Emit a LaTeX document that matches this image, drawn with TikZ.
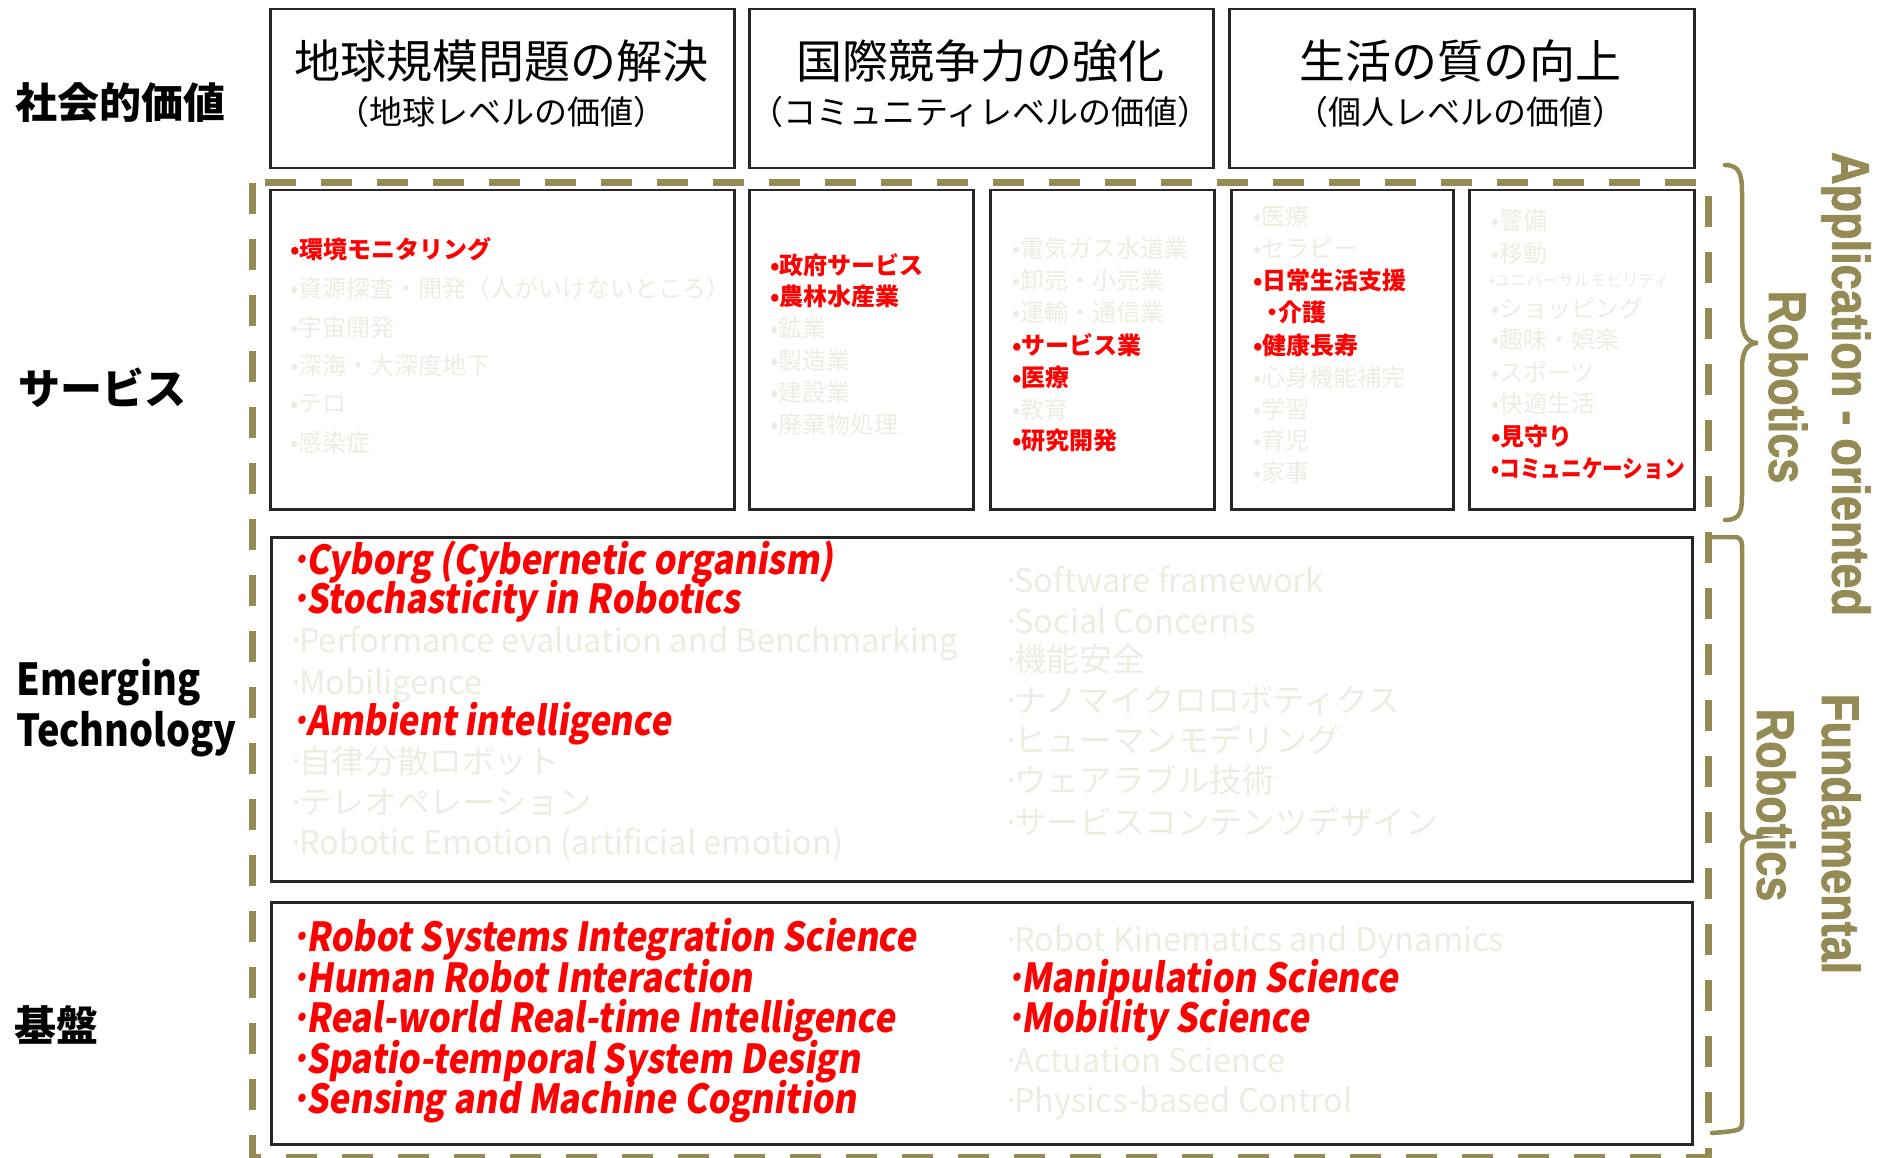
\documentclass[tikz,border=0pt]{standalone}
\usepackage{fontspec}
\setmainfont{Noto Sans CJK JP}
\newfontfamily\jpen{Noto Sans CJK JP}[FakeSlant=0.15,FakeStretch=0.87]
\newfontfamily\jpc{Noto Sans CJK JP}[FakeStretch=0.86]
\newfontfamily\rotf{Liberation Sans}[FakeStretch=0.85,FakeBold=1.5]
\definecolor{tanline}{HTML}{948A54}
\definecolor{faded}{HTML}{EEECE1}
\newcommand{\fs}[1]{\fontsize{#1pt}{#1pt}\selectfont}
\newcommand{\gd}{\makebox[6pt][c]{·}}
\newcommand{\rd}{\makebox[13pt][c]{･}}
\tikzset{
  box/.style={draw=black!85, line width=2.5pt, anchor=north west, inner sep=0pt},
  tx/.style={anchor=west, inner sep=0pt},
  lab/.style={tx, font=\bfseries\fs{42}, text height=35.7pt, text depth=5pt},
  ttl/.style={inner sep=0pt, font=\fs{46}},
  sub/.style={inner sep=0pt, font=\fs{33}},
  svr/.style={tx, text=red, font=\bfseries\fs{24}, text height=20.4pt, text depth=2.9pt},
  svg/.style={tx, text=faded, font=\fs{24}, text height=20.4pt, text depth=2.9pt},
  emr/.style={tx, text=red, font=\jpen\bfseries\fs{40}, text height=34pt, text depth=4.8pt},
  emg/.style={tx, text=faded, font=\fs{32.6}, text height=27.7pt, text depth=3.9pt},
  rot/.style={inner sep=0pt, rotate=-90, text=tanline, font=\rotf\bfseries\fs{53}},
  dashline/.style={draw=tanline, line width=7pt, dash pattern=on 31pt off 25pt},
  brace/.style={draw=tanline, line width=4.5pt, line cap=round}
}
\begin{document}
\begin{tikzpicture}[x=1pt,y=-1pt]
\useasboundingbox (0,0) rectangle (1892,1158);
% dashed frame
\draw[dashline] (252,183) rectangle (1708,1157);
% top boxes
\node[box, minimum width=464pt, minimum height=159pt] (b1) at (269,8) {};
\node[box, minimum width=464pt, minimum height=159pt] (b2) at (748,8) {};
\node[box, minimum width=465pt, minimum height=159pt] (b3) at (1228,8) {};
% service boxes
\node[box, minimum width=464pt, minimum height=319pt] (s1) at (269,189) {};
\node[box, minimum width=224pt, minimum height=319pt] (s2) at (748,189) {};
\node[box, minimum width=224pt, minimum height=319pt] (s3) at (989,189) {};
\node[box, minimum width=222pt, minimum height=319pt] (s4) at (1230,189) {};
\node[box, minimum width=225pt, minimum height=319pt] (s5) at (1468,189) {};
% emerging and base boxes
\node[box, minimum width=1421pt, minimum height=344pt] (em) at (270,536) {};
\node[box, minimum width=1421pt, minimum height=242pt] (kb) at (270,901) {};
% left labels
\node[lab] (lsoc) at (15,103) {社会的価値};
\node[lab] (lsvc) at (18,389) {サービス};
\node[lab, font=\jpc\bfseries\fs{44}, text height=37.4pt, text depth=5.3pt] (lemg) at (16,679) {Emerging};
\node[lab, font=\jpc\bfseries\fs{44}, text height=37.4pt, text depth=5.3pt] (ltec) at (16,730) {Technology};
\node[lab] (lkib) at (14,1026) {基盤};
% titles
\node[ttl] (h1) at (501,61) {地球規模問題の解決};
\node[sub] (u1) at (501,112) {（地球レベルの価値）};
\node[ttl] (h2) at (980,61) {国際競争力の強化};
\node[sub] (u2) at (980,112) {（コミュニティレベルの価値）};
\node[ttl] (h3) at (1460,61) {生活の質の向上};
\node[sub] (u3) at (1460,112) {（個人レベルの価値）};
% service box 1
\node[svr] (a1) at (290,250) {•環境モニタリング};
\node[svg] (a2) at (290,289) {•資源探査・開発（人がいけないところ）};
\node[svg] (a3) at (290,328) {•宇宙開発};
\node[svg] (a4) at (290,366) {•深海・大深度地下};
\node[svg] (a5) at (290,404) {•テロ};
\node[svg] (a6) at (290,443) {•感染症};
% service box 2
\node[svr] (c1) at (770,266) {•政府サービス};
\node[svr] (c2) at (770,297) {•農林水産業};
\node[svg] (c3) at (770,329) {•鉱業};
\node[svg] (c4) at (770,361) {•製造業};
\node[svg] (c5) at (770,393) {•建設業};
\node[svg] (c6) at (770,425) {•廃棄物処理};
% service box 3
\node[svg] (d1) at (1012,249) {•電気ガス水道業};
\node[svg] (d2) at (1012,281) {•卸売・小売業};
\node[svg] (d3) at (1012,313) {•運輸・通信業};
\node[svr] (d4) at (1012,346) {•サービス業};
\node[svr] (d5) at (1012,378) {•医療};
\node[svg] (d6) at (1012,410) {•教育};
\node[svr] (d7) at (1012,441) {•研究開発};
% service box 4
\node[svg] (e1) at (1253,217) {•医療};
\node[svg] (e2) at (1253,249) {•セラピー};
\node[svr] (e3) at (1253,281) {•日常生活支援};
\node[svr] (e4) at (1266,313) {\makebox[12pt][c]{・}介護};
\node[svr] (e5) at (1253,346) {•健康長寿};
\node[svg] (e6) at (1253,378) {•心身機能補完};
\node[svg] (e7) at (1253,410) {•学習};
\node[svg] (e8) at (1253,441) {•育児};
\node[svg] (e9) at (1253,473) {•家事};
% service box 5
\node[svg] (f1) at (1491,221) {•警備};
\node[svg] (f2) at (1491,254) {•移動};
\node[svg, font=\fs{16}, text height=13.6pt, text depth=1.9pt] (f3) at (1489,281) {•ユニバーサルモビリティ};
\node[svg] (f4) at (1491,309) {•ショッピング};
\node[svg] (f5) at (1491,340) {•趣味・娯楽};
\node[svg] (f6) at (1491,373) {•スポーツ};
\node[svg] (f7) at (1491,404) {•快適生活};
\node[svr] (f8) at (1491,437) {•見守り};
\node[svr, font=\jpc\bfseries\fs{24}] (f9) at (1491,469) {•コミュニケーション};
% emerging left
\node[emr] (g1) at (293,560) {\rd Cyborg (Cybernetic organism)};
\node[emr] (g2) at (293,599) {\rd Stochasticity in Robotics};
\node[emg] (g3) at (293,641) {\gd Performance evaluation and Benchmarking};
\node[emg] (g4) at (293,683) {\gd Mobiligence};
\node[emr] (g5) at (293,721) {\rd Ambient intelligence};
\node[emg] (g6) at (293,762) {\gd 自律分散ロボット};
\node[emg] (g7) at (293,803) {\gd テレオペレーション};
\node[emg] (g8) at (293,843) {\gd Robotic Emotion (artificial emotion)};
% emerging right
\node[emg] (h4) at (1008,581) {\gd Software framework};
\node[emg] (h5) at (1008,622) {\gd Social Concerns};
\node[emg] (h6) at (1008,660) {\gd 機能安全};
\node[emg] (h7) at (1008,701) {\gd ナノマイクロロボティクス};
\node[emg] (h8) at (1008,741) {\gd ヒューマンモデリング};
\node[emg] (h9) at (1008,781) {\gd ウェアラブル技術};
\node[emg] (h10) at (1008,823) {\gd サービスコンテンツデザイン};
% base left
\node[emr] (k1) at (293,937) {\rd Robot Systems Integration Science};
\node[emr] (k2) at (293,978) {\rd Human Robot Interaction};
\node[emr] (k3) at (293,1018) {\rd Real-world Real-time Intelligence};
\node[emr] (k4) at (293,1059) {\rd Spatio-temporal System Design};
\node[emr] (k5) at (293,1099) {\rd Sensing and Machine Cognition};
% base right
\node[emg] (m1) at (1008,940) {\gd Robot Kinematics and Dynamics};
\node[emr] (m2) at (1008,978) {\rd Manipulation Science};
\node[emr] (m3) at (1008,1018) {\rd Mobility Science};
\node[emg] (m4) at (1008,1061) {\gd Actuation Science};
\node[emg] (m5) at (1008,1101) {\gd Physics-based Control};
% braces
\draw[brace] (1725,165) .. controls (1742,165) and (1742,178) .. (1742,198) -- (1742,318)
  .. controls (1742,336) and (1748,343) .. (1758,343)
  .. controls (1748,343) and (1742,350) .. (1742,368) -- (1742,490)
  .. controls (1742,510) and (1742,520) .. (1725,520);
\draw[brace] (1712,537) -- (1734,537) .. controls (1740,537) and (1742,540) .. (1742,546) -- (1742,828)
  .. controls (1742,834) and (1748,837) .. (1755,837)
  .. controls (1748,837) and (1742,840) .. (1742,846) -- (1742,1124)
  .. controls (1742,1130) and (1738,1131) .. (1712,1133);
% rotated labels
\node[rot] (aor) at (1846,384) {Application\kern13pt-\kern13pt oriented};
\node[rot] (rb1) at (1788,387) {Robotics};
\node[rot] (fun) at (1841,834) {Fundamental};
\node[rot] (rb2) at (1776,805) {Robotics};
\end{tikzpicture}
\end{document}
